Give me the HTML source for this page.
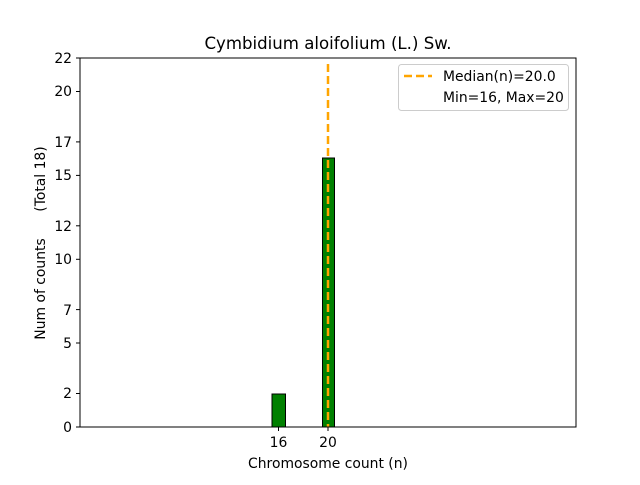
<!DOCTYPE html>
<html><head><style>body{margin:0;background:#fff}</style></head><body>
<svg width="640" height="480" xmlns="http://www.w3.org/2000/svg" font-family="DejaVu Sans, Liberation Sans, sans-serif">
<rect width="640" height="480" fill="#fff"/>
<line x1="80" y1="427" x2="371" y2="427" stroke="#000" stroke-width="1"/>
<rect x="272" y="394" width="13.5" height="33" fill="#008000" stroke="#000" stroke-width="1"/>
<rect x="322.5" y="158" width="12" height="269" fill="#008000" stroke="#000" stroke-width="1"/>
<line x1="328" y1="64" x2="328" y2="427" stroke="#ffa500" stroke-width="2.5" stroke-dasharray="8,4"/>
<rect x="80" y="58" width="496" height="369" fill="none" stroke="#000" stroke-width="1"/>
<g font-size="13.9" text-anchor="end">
<text x="72" y="432">0</text><line x1="76" y1="427" x2="80" y2="427" stroke="#000"/>
<text x="72" y="398">2</text><line x1="76" y1="393.5" x2="80" y2="393.5" stroke="#000"/>
<text x="72" y="348">5</text><line x1="76" y1="343" x2="80" y2="343" stroke="#000"/>
<text x="72" y="315">7</text><line x1="76" y1="309.6" x2="80" y2="309.6" stroke="#000"/>
<text x="72" y="264">10</text><line x1="76" y1="259.3" x2="80" y2="259.3" stroke="#000"/>
<text x="72" y="231">12</text><line x1="76" y1="225.8" x2="80" y2="225.8" stroke="#000"/>
<text x="72" y="180">15</text><line x1="76" y1="175.4" x2="80" y2="175.4" stroke="#000"/>
<text x="72" y="147">17</text><line x1="76" y1="141.9" x2="80" y2="141.9" stroke="#000"/>
<text x="72" y="96">20</text><line x1="76" y1="91.5" x2="80" y2="91.5" stroke="#000"/>
<text x="72" y="63">22</text><line x1="76" y1="58" x2="80" y2="58" stroke="#000"/>
</g>
<g font-size="13.9" text-anchor="middle">
<line x1="278.5" y1="427" x2="278.5" y2="431" stroke="#000"/><text x="278.5" y="447">16</text>
<line x1="328" y1="427" x2="328" y2="431" stroke="#000"/><text x="328" y="447">20</text>
<text x="328" y="468">Chromosome count (n)</text>
<text x="328" y="49" font-size="16.6">Cymbidium aloifolium (L.) Sw.</text>
<text transform="translate(45,289) rotate(-90)">Num of counts</text>
<text transform="translate(45,179) rotate(-90)">(Total 18)</text>
</g>
<rect x="398.5" y="64.5" width="170" height="46" rx="3" fill="#fff" stroke="#ccc"/>
<line x1="404" y1="76" x2="432" y2="76" stroke="#ffa500" stroke-width="2.5" stroke-dasharray="8,4"/>
<text x="443" y="81" font-size="13.9">Median(n)=20.0</text>
<text x="443" y="102" font-size="13.9">Min=16, Max=20</text>
</svg>
</body></html>
